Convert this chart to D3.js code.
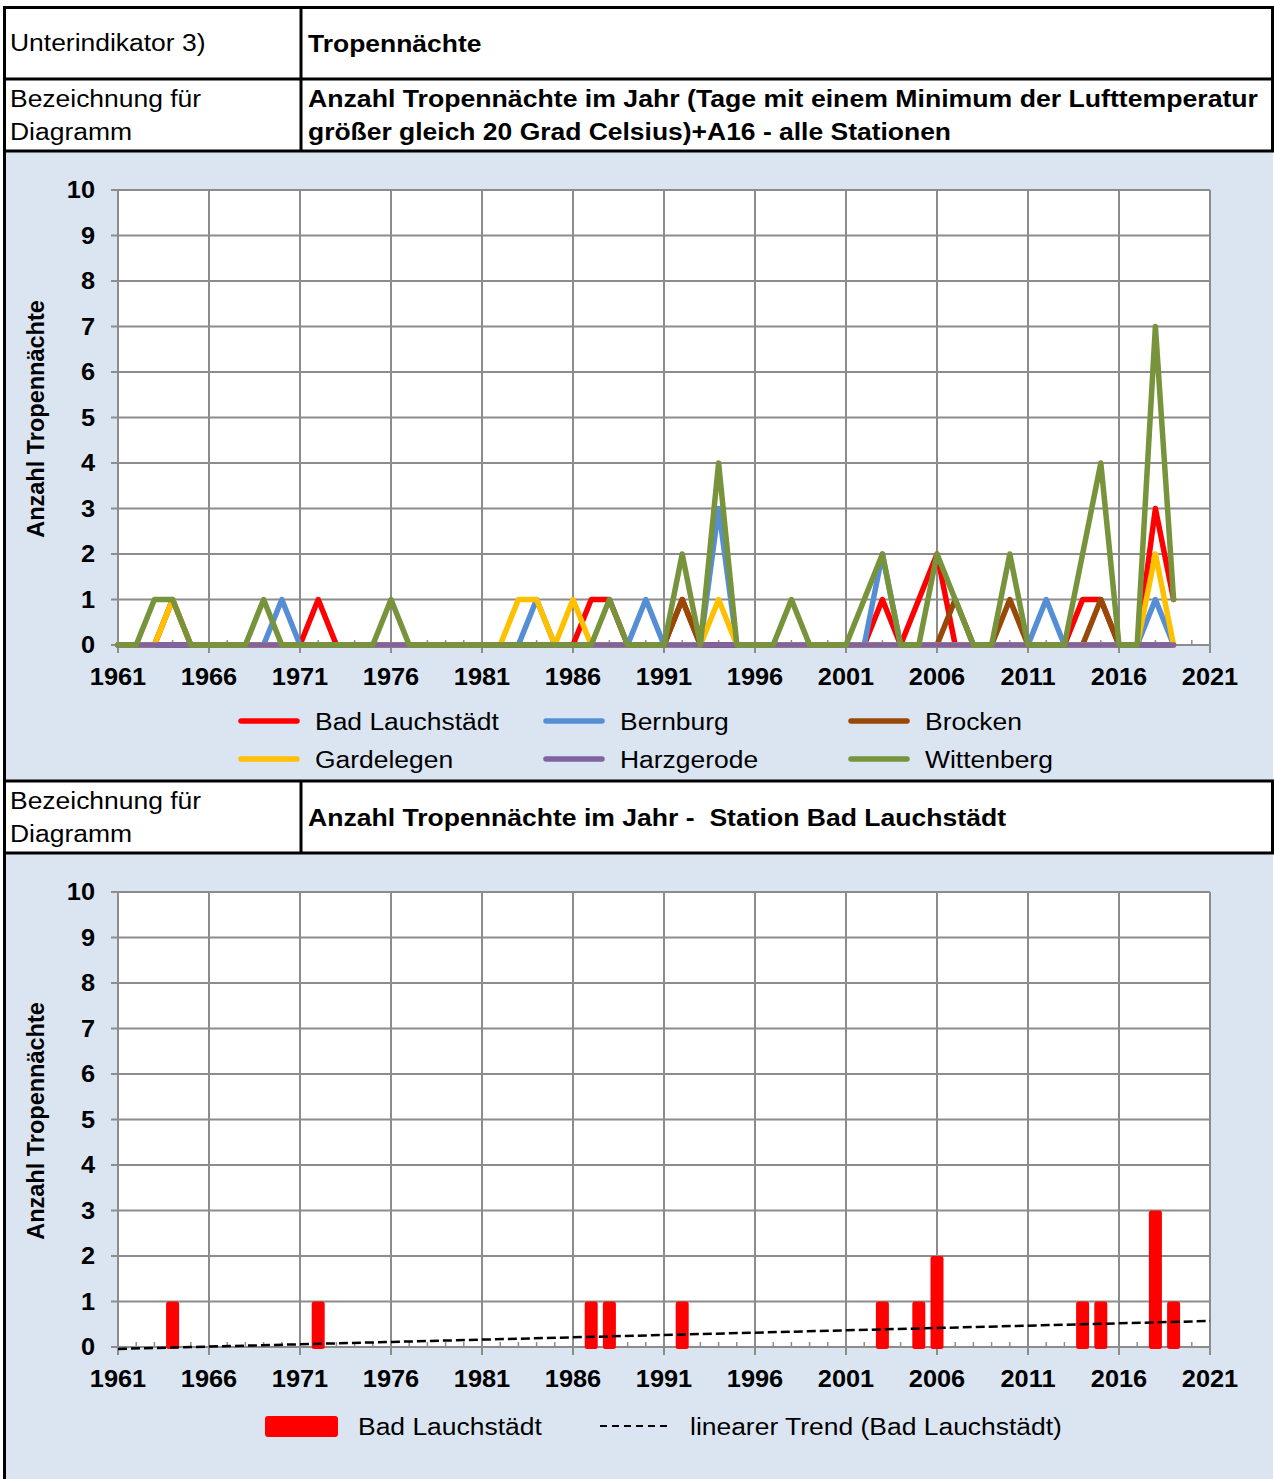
<!DOCTYPE html>
<html><head><meta charset="utf-8">
<script src="https://cdn.jsdelivr.net/npm/d3@7"></script>
<style>body{margin:0;background:#fff}svg{display:block}text{white-space:pre}</style>
</head><body><svg id="c" width="1274" height="1479"></svg>
<script>
// ---------- DATA ----------
const years = [1961,1962,1963,1964,1965,1966,1967,1968,1969,1970,
               1971,1972,1973,1974,1975,1976,1977,1978,1979,1980,
               1981,1982,1983,1984,1985,1986,1987,1988,1989,1990,
               1991,1992,1993,1994,1995,1996,1997,1998,1999,2000,
               2001,2002,2003,2004,2005,2006,2007,2008,2009,2010,
               2011,2012,2013,2014,2015,2016,2017,2018,2019];
const badLauchstaedt = [0,0,0,1,0,0,0,0,0,0, 0,1,0,0,0,0,0,0,0,0, 0,0,0,0,0,0,1,1,0,0, 0,1,0,0,0,0,0,0,0,0, 0,0,1,0,1,2,0,0,0,0, 0,0,0,1,1,0,0,3,1];
const bernburg       = [0,0,0,0,0,0,0,0,0,1, 0,0,0,0,0,0,0,0,0,0, 0,0,0,1,0,0,0,0,0,1, 0,0,0,3,0,0,0,0,0,0, 0,0,2,0,0,0,0,0,0,0, 0,1,0,0,0,0,0,1,0];
const brocken        = [0,0,0,0,0,0,0,0,0,0, 0,0,0,0,0,0,0,0,0,0, 0,0,0,0,0,0,0,0,0,0, 0,1,0,0,0,0,0,0,0,0, 0,0,0,0,0,0,1,0,0,1, 0,0,0,0,1,0,0,0,0];
const gardelegen     = [0,0,0,1,0,0,0,0,0,0, 0,0,0,0,0,0,0,0,0,0, 0,0,1,1,0,1,0,0,0,0, 0,0,0,1,0,0,0,0,0,0, 0,0,0,0,0,0,0,0,0,0, 0,0,0,0,0,0,0,2,0];
const harzgerode     = [0,0,0,0,0,0,0,0,0,0, 0,0,0,0,0,0,0,0,0,0, 0,0,0,0,0,0,0,0,0,0, 0,0,0,0,0,0,0,0,0,0, 0,0,0,0,0,0,0,0,0,0, 0,0,0,0,0,0,0,0,0];
const wittenberg     = [0,0,1,1,0,0,0,0,1,0, 0,0,0,0,0,1,0,0,0,0, 0,0,0,0,0,0,0,1,0,0, 0,2,0,4,0,0,0,1,0,0, 0,1,2,0,0,2,1,0,0,2, 0,0,0,2,4,0,0,7,1];
const seriesNames  = ["Bad Lauchstädt","Bernburg","Brocken","Gardelegen","Harzgerode","Wittenberg"];
const seriesColors = ["#ff0000","#558ed5","#984807","#ffc000","#8064a2","#77933c"];
const xTickLabels = [1961,1966,1971,1976,1981,1986,1991,1996,2001,2006,2011,2016,2021];
const yTickLabels = [0,1,2,3,4,5,6,7,8,9,10];

// ---------- SETUP ----------
const svg = d3.select("#c");
const FONT = "'Liberation Sans', Arial, sans-serif";
const SX = 1.08;
function txt(g, x, y, s, o = {}) {
  const t = g.append("text")
    .attr("transform", `translate(${x},${y}) scale(${o.sx ?? SX},1)`)
    .attr("xml:space", "preserve")
    .attr("font-family", FONT)
    .attr("font-size", o.size || 24.5)
    .attr("font-weight", o.bold ? "bold" : "normal")
    .attr("text-anchor", o.anchor || "start")
    .attr("dominant-baseline", "central")
    .attr("fill", "#000")
    .text(s);
  if (o.len) t.attr("textLength", o.len / (o.sx ?? SX)).attr("lengthAdjust", "spacingAndGlyphs");
  return t;
}

const BG = "#dbe5f1";
// chart backgrounds
svg.append("rect").attr("x", 5).attr("y", 151).attr("width", 1268).attr("height", 630).attr("fill", BG);
svg.append("rect").attr("x", 5).attr("y", 853).attr("width", 1268).attr("height", 626).attr("fill", BG);

// table borders
const bl = svg.append("g").attr("stroke", "#000").attr("stroke-width", 3);
[[3, 7.5, 1274, 7.5], [3, 79, 1274, 79], [3, 151, 1274, 151], [3, 781, 1274, 781], [3, 853, 1274, 853],
 [4.5, 6, 4.5, 1479], [301, 7, 301, 151], [301, 781, 301, 853], [1272.5, 6, 1272.5, 151], [1272.5, 781, 1272.5, 853]]
  .forEach(d => bl.append("line").attr("x1", d[0]).attr("y1", d[1]).attr("x2", d[2]).attr("y2", d[3]));

// header texts
const ht = svg.append("g");
txt(ht, 10, 42, "Unterindikator 3)");
txt(ht, 308, 43, "Tropennächte", { bold: true });
txt(ht, 10, 98, "Bezeichnung für");
txt(ht, 10, 131, "Diagramm");
txt(ht, 308, 98, "Anzahl Tropennächte im Jahr (Tage mit einem Minimum der Lufttemperatur", { bold: true, len: 950 });
txt(ht, 308, 131, "größer gleich 20 Grad Celsius)+A16 - alle Stationen", { bold: true, len: 643 });
txt(ht, 10, 800, "Bezeichnung für");
txt(ht, 10, 833, "Diagramm");
txt(ht, 308, 817, "Anzahl Tropennächte im Jahr -  Station Bad Lauchstädt", { bold: true, len: 698 });

// ---------- generic plot frame ----------
function frame(top, bottom, titleY, labelY) {
  const x = d3.scaleLinear().domain([1961, 2021]).range([118, 1210]);
  const y = d3.scaleLinear().domain([0, 10]).range([bottom, top]);
  const g = svg.append("g");
  g.append("rect").attr("x", x(1961)).attr("y", y(10)).attr("width", x(2021) - x(1961)).attr("height", y(0) - y(10)).attr("fill", "#fff");
  const grid = g.append("g").attr("stroke", "#8c8c8c").attr("stroke-width", 2);
  yTickLabels.forEach(v => grid.append("line").attr("x1", x(1961) - 7).attr("x2", x(2021)).attr("y1", y(v)).attr("y2", y(v)));
  xTickLabels.forEach(v => grid.append("line").attr("x1", x(v)).attr("x2", x(v)).attr("y1", y(10)).attr("y2", y(0) + 8));
  // minor ticks every year (inside)
  const minor = g.append("g").attr("stroke", "#8c8c8c").attr("stroke-width", 1.5);
  years.concat([2020]).forEach(v => minor.append("line").attr("x1", x(v)).attr("x2", x(v)).attr("y1", y(0)).attr("y2", y(0) - 5));
  // labels
  yTickLabels.forEach(v => txt(g, 95, y(v), String(v), { bold: true, size: 23.5, anchor: "end" }));
  xTickLabels.forEach(v => txt(g, x(v), labelY, String(v), { bold: true, size: 23.5, anchor: "middle" }));
  g.append("text").attr("transform", `translate(36,${titleY}) rotate(-90)`)
    .attr("font-family", FONT).attr("font-size", 23.5).attr("font-weight", "bold")
    .attr("text-anchor", "middle").attr("dominant-baseline", "central").text("Anzahl Tropennächte");
  return { x, y, g };
}

// ---------- CHART 1 ----------
const c1 = frame(190, 645, 419, 677);
const allSeries = [badLauchstaedt, bernburg, brocken, gardelegen, harzgerode, wittenberg];
const line1 = d3.line().x((d, i) => c1.x(years[i])).y(d => c1.y(d));
allSeries.forEach((s, k) => {
  c1.g.append("path").datum(s).attr("d", line1).attr("fill", "none")
    .attr("stroke", seriesColors[k]).attr("stroke-width", 5.5)
    .attr("stroke-linejoin", "round").attr("stroke-linecap", "round");
});
// legend 1
const legPos = [[241, 721], [546, 721], [851, 721], [241, 759], [546, 759], [851, 759]];
seriesNames.forEach((n, k) => {
  const [lx, ly] = legPos[k];
  c1.g.append("line").attr("x1", lx).attr("x2", lx + 56).attr("y1", ly).attr("y2", ly)
    .attr("stroke", seriesColors[k]).attr("stroke-width", 5.5).attr("stroke-linecap", "round");
  txt(c1.g, lx + 74, ly, n);
});

// ---------- CHART 2 ----------
const c2 = frame(892, 1347, 1121, 1379);
const barW = 13;
c2.g.append("g").selectAll("rect").data(badLauchstaedt.map((v, i) => ({ v, yr: years[i] })).filter(d => d.v > 0))
  .join("rect")
  .attr("x", d => c2.x(d.yr) - barW / 2).attr("width", barW)
  .attr("y", d => c2.y(d.v)).attr("height", d => c2.y(0) - c2.y(d.v) + 2)
  .attr("rx", 2.5).attr("fill", "#ff0000");
// linear trend (least squares from the data)
const mx = d3.mean(years), my = d3.mean(badLauchstaedt);
const slope = d3.sum(years, (t, i) => (t - mx) * (badLauchstaedt[i] - my)) / d3.sum(years, t => (t - mx) ** 2);
const icpt = my - slope * mx;
c2.g.append("line").attr("x1", c2.x(1961)).attr("x2", c2.x(2021))
  .attr("y1", c2.y(icpt + slope * 1961)).attr("y2", c2.y(icpt + slope * 2021))
  .attr("stroke", "#000").attr("stroke-width", 2.5).attr("stroke-dasharray", "9,4");
// legend 2
c2.g.append("rect").attr("x", 265).attr("y", 1416).attr("width", 73).attr("height", 21).attr("rx", 3).attr("fill", "#ff0000");
txt(c2.g, 358, 1426, "Bad Lauchstädt");
c2.g.append("line").attr("x1", 600).attr("x2", 670).attr("y1", 1426).attr("y2", 1426)
  .attr("stroke", "#000").attr("stroke-width", 2).attr("stroke-dasharray", "7,5");
txt(c2.g, 690, 1426, "linearer Trend (Bad Lauchstädt)");
</script></body></html>
